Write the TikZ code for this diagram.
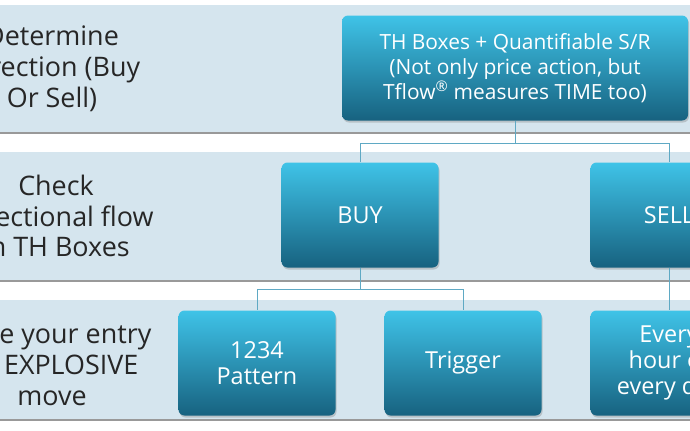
\documentclass[tikz,border=0pt]{standalone}
\usepackage{fontspec}
\setmainfont{Open Sans}
\usetikzlibrary{positioning,shadows}
\definecolor{bandfill}{HTML}{D5E5EE}
\definecolor{boxtop}{HTML}{3FC3E8}
\definecolor{boxbot}{HTML}{17627F}
\definecolor{linkcol}{HTML}{5FA9C4}
\begin{document}
\begin{tikzpicture}[x=1bp,y=-1bp,
	band/.style={fill=bandfill,draw=none},
	stepbox/.style={rounded corners=6bp,top color=boxtop,bottom color=boxbot,draw=none,
		minimum width=157bp,minimum height=105bp,text=white,align=center,font=\fontsize{23.5}{26}\selectfont,
		drop shadow={opacity=0.35,shadow xshift=1bp,shadow yshift=-2bp}},
	sidetext/.style={align=center,font=\fontsize{27}{31}\selectfont,text=black!85},
	link/.style={draw=linkcol,thick}]
	\useasboundingbox (0,0) rectangle (690,430);
	\fill[white] (0,0) rectangle (690,430);
	% bands
	\fill[band] (0,5) rectangle (690,133);
	\fill[band] (0,152) rectangle (690,281);
	\fill[band] (0,300) rectangle (690,420);
	\draw[black!40,line width=1.5bp] (0,133) -- (690,133) (0,281) -- (690,281) (0,420) -- (690,420);
	% side labels
	\node[sidetext] (dir) at (52,69) {Determine\\Direction (Buy\\Or Sell)};
	\node[sidetext] (chk) at (56,216) {Check\\Directional flow\\In TH Boxes};
	\node[sidetext] (tim) at (52,365) {Time your entry\\an EXPLOSIVE\\move};
	% boxes
	\node[stepbox,minimum width=346bp,font=\fontsize{21}{25}\selectfont] (th) at (515,68) {TH Boxes + Quantifiable S/R\\(Not only price action, but\\Tflow\textsuperscript{®} measures TIME too)};
	\node[stepbox] (buy) at (360,215) {BUY};
	\node[stepbox] (sell) at (669,215) {SELL};
	\node[stepbox] (pat) at (257,363) {1234\\Pattern};
	\node[stepbox] (trg) at (463,363) {Trigger};
	\node[stepbox] (evr) at (669,363) {Every\\hour of\\every day};
	% links
	\draw[link] (th.south) -- ++(0,23) -| (buy.north);
	\draw[link] (th.south) ++(0,23) -| (sell.north);
	\draw[link] (buy.south) -- ++(0,22) -| (pat.north);
	\draw[link] (buy.south) ++(0,22) -| (trg.north);
	\draw[link] (sell.south) -- (evr.north);
\end{tikzpicture}
\end{document}
